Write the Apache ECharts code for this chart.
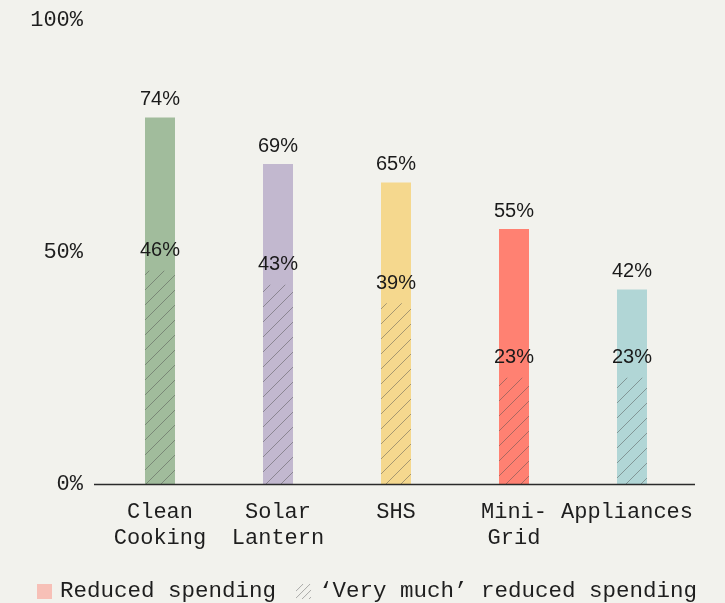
<!DOCTYPE html>
<html>
<head>
<meta charset="utf-8">
<script src="https://cdn.jsdelivr.net/npm/echarts@6/dist/echarts.min.js"></script>
<style>
html,body{margin:0;padding:0;background:#f2f2ed;}
#chart{width:725px;height:603px;}
</style>
</head>
<body>
<div id="chart"></div>
<script>
const categories = ['Clean\nCooking', 'Solar\nLantern', 'SHS', 'Mini-\nGrid', 'Appliances'];
const reducedHeights = [79, 69, 65, 55, 42];
const reducedLabels = ['74%', '69%', '65%', '55%', '42%'];
const veryMuchValues = [46, 43, 39, 23, 23];
const veryMuchLabels = ['46%', '43%', '39%', '23%', '23%'];
const barColors = ['#a1bc9c', '#c2b8cf', '#f5d88e', '#ff8172', '#b1d6d6'];
const yTicks = [0, 50, 100];
const legendNames = ['Reduced spending', '\u2018Very much\u2019 reduced spending'];

function makeHatch(size, color, width) {
  const c = document.createElement('canvas');
  c.width = size; c.height = size;
  const ctx = c.getContext('2d');
  ctx.strokeStyle = color;
  ctx.lineWidth = width;
  ctx.beginPath();
  ctx.moveTo(0, size); ctx.lineTo(size, 0);
  ctx.moveTo(-2, 2); ctx.lineTo(2, -2);
  ctx.moveTo(size - 2, size + 2); ctx.lineTo(size + 2, size - 2);
  ctx.stroke();
  return c;
}
const hatch = makeHatch(15, 'rgba(80,80,80,0.48)', 1);
const legendHatch = makeHatch(7, 'rgba(110,110,110,0.55)', 1);

const mono = 'Liberation Mono';
const sans = 'Liberation Sans';

const chart = echarts.init(document.getElementById('chart'));
chart.setOption({
  backgroundColor: '#f2f2ed',
  animation: false,
  grid: { left: 101, right: 34, top: 20, bottom: 118.5 },
  legend: {
    left: 37, top: 580, padding: 0,
    itemWidth: 15, itemHeight: 15, itemGap: 20,
    icon: 'rect',
    textStyle: { fontFamily: mono, fontSize: 22.5, color: '#1e1e1e', padding: [0, 0, 0, 3] },
    data: [
      { name: legendNames[0], itemStyle: { color: '#f7c0b7' } },
      { name: legendNames[1], itemStyle: { color: { image: legendHatch, repeat: 'repeat' } } }
    ]
  },
  xAxis: {
    type: 'category',
    data: categories.map((c, i) => i === categories.length - 1
      ? { value: c, textStyle: { padding: [0, 10, 0, 0] } }
      : c),
    axisLine: { show: false },
    axisTick: { show: false },
    axisLabel: { fontFamily: mono, fontSize: 22, color: '#1e1e1e', lineHeight: 26, margin: 15, interval: 0 }
  },
  yAxis: {
    type: 'value',
    min: 0, max: 100, interval: 50,
    splitLine: { show: false },
    axisLine: { show: false },
    axisTick: { show: false },
    axisLabel: {
      fontFamily: mono, fontSize: 22, color: '#1e1e1e', margin: 18,
      formatter: v => yTicks.includes(v) ? v + '%' : ''
    }
  },
  graphic: [{
    type: 'line', z: 10,
    shape: { x1: 94, y1: 484.5, x2: 695, y2: 484.5 },
    style: { stroke: '#2a2a2a', lineWidth: 1.5 }
  }],
  series: [
    {
      name: legendNames[0],
      type: 'bar',
      barWidth: 30,
      itemStyle: { color: '#f7c0b7' },
      data: reducedHeights.map((v, i) => ({ value: v, itemStyle: { color: barColors[i] } })),
      label: {
        show: true, position: 'top', distance: 8,
        fontFamily: sans, fontSize: 20, color: '#1a1a1a',
        formatter: p => reducedLabels[p.dataIndex]
      }
    },
    {
      name: legendNames[1],
      type: 'bar',
      barWidth: 30,
      barGap: '-100%',
      itemStyle: { color: { image: hatch, repeat: 'repeat' } },
      data: veryMuchValues,
      label: {
        show: true, position: 'top', distance: 10,
        fontFamily: sans, fontSize: 20, color: '#1a1a1a',
        formatter: p => veryMuchLabels[p.dataIndex]
      }
    }
  ]
});
</script>
</body>
</html>
